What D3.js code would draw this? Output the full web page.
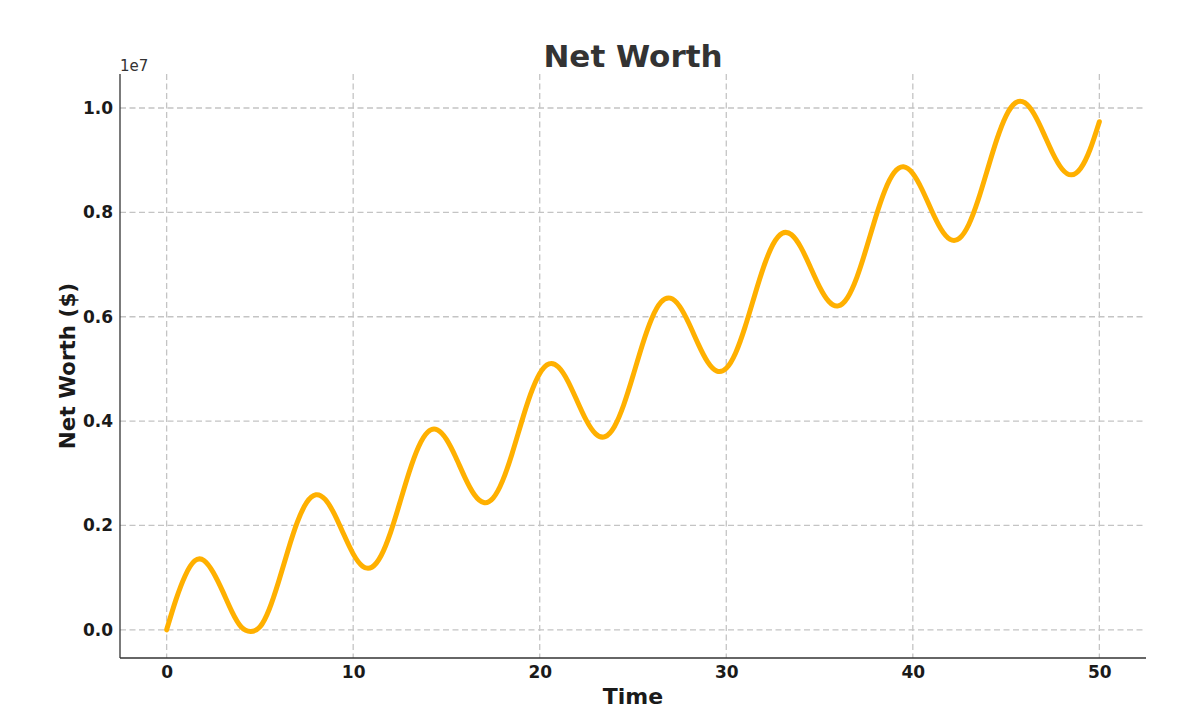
<!DOCTYPE html>
<html>
<head>
<meta charset="utf-8">
<script src="https://cdn.jsdelivr.net/npm/d3@7"></script>
<style>
  body { margin: 0; background: #fff; }
  svg { font-family: "DejaVu Sans", sans-serif; }
</style>
</head>
<body>
<div id="chart"></div>
<script>
// time values, every half unit
const times = d3.range(0, 50.01, 0.5);
// net worth in $ (1e7 scale)
const netWorth = [
  0, 579000, 1042000, 1320000, 1330000, 1099000, 741000, 349000, 55000, -30000,
  55000, 394000, 921000, 1515000, 2057000, 2438000, 2589000, 2499000, 2212000, 1825000,
  1456000, 1220000, 1200000, 1424000, 1863000, 2434000, 3020000, 3504000, 3791000, 3835000,
  3650000, 3307000, 2912000, 2588000, 2439000, 2524000, 2849000, 3357000, 3950000, 4506000,
  4913000, 5097000, 5037000, 4772000, 4391000, 4013000, 3754000, 3702000, 3894000, 4309000,
  4868000, 5459000, 5963000, 6279000, 6356000, 6200000, 5871000, 5476000, 5136000, 4959000,
  5012000, 5306000, 5796000, 6384000, 6951000, 7384000, 7600000, 7571000, 7329000, 6958000,
  6572000, 6291000, 6208000, 6368000, 6756000, 7302000, 7896000, 8418000, 8764000, 8874000,
  8745000, 8434000, 8041000, 7687000, 7483000, 7504000, 7768000, 8236000, 8818000, 9395000,
  9851000, 10099000, 10102000, 9884000, 9524000, 9133000, 8832000, 8719000, 8846000, 9205000,
  9738000
];
const xTicks = [0, 10, 20, 30, 40, 50];
const yTicks = [0, 2e6, 4e6, 6e6, 8e6, 1e7];

const width = 1200, height = 727;
const margin = {top: 74, right: 54, bottom: 69, left: 120};
const innerW = width - margin.left - margin.right;
const innerH = height - margin.top - margin.bottom;

const data = times.map((t, i) => ({t: t, v: netWorth[i]}));

const svg = d3.select("#chart").append("svg")
    .attr("width", width)
    .attr("height", height);

const g = svg.append("g")
    .attr("transform", "translate(" + margin.left + "," + margin.top + ")");

// matplotlib style 5% margins
const xScale = d3.scaleLinear().domain([-2.5, 52.5]).range([0, innerW]);
const yScale = d3.scaleLinear().domain([-540000, 10652000]).range([innerH, 0]);

// gridlines
const gridStyle = sel => sel
    .attr("stroke", "#c4c4c4")
    .attr("stroke-width", 1.3)
    .attr("stroke-dasharray", "6,3.5");

g.append("g")
    .selectAll("line").data(xTicks).join("line")
    .attr("x1", d => xScale(d)).attr("x2", d => xScale(d))
    .attr("y1", 0).attr("y2", innerH)
    .call(gridStyle);
g.append("g")
    .selectAll("line").data(yTicks).join("line")
    .attr("x1", 0).attr("x2", innerW)
    .attr("y1", d => yScale(d)).attr("y2", d => yScale(d))
    .call(gridStyle);

// axes
const xAxis = g.append("g")
    .attr("transform", "translate(0," + innerH + ")")
    .call(d3.axisBottom(xScale).tickValues(xTicks).tickSize(0).tickPadding(8).tickFormat(d3.format("d")));
const yAxis = g.append("g")
    .call(d3.axisLeft(yScale).tickValues(yTicks).tickSize(0).tickPadding(7).tickFormat(d => (d / 1e7).toFixed(1)));

[xAxis, yAxis].forEach(a => {
    a.attr("font-family", null).attr("font-size", null);
    a.select(".domain").attr("stroke", "#333").attr("stroke-width", 1.3);
    a.selectAll(".tick text")
        .style("font-size", "17px")
        .style("font-weight", "bold")
        .style("font-family", "'DejaVu Sans', sans-serif")
        .attr("fill", "#1a1a1a");
});
xAxis.select(".domain").attr("d", "M0,0H" + innerW);
yAxis.select(".domain").attr("d", "M0," + innerH + "V0");

// the line
const line = d3.line()
    .x(d => xScale(d.t))
    .y(d => yScale(d.v))
    .curve(d3.curveNatural);

g.append("path")
    .datum(data)
    .attr("fill", "none")
    .attr("stroke", "#FFB000")
    .attr("stroke-width", 5)
    .attr("stroke-linecap", "round")
    .attr("stroke-linejoin", "round")
    .attr("d", line);

// offset text
svg.append("text")
    .attr("x", margin.left)
    .attr("y", 71)
    .attr("font-size", 15)
    .attr("fill", "#333")
    .text("1e7");

// title
svg.append("text")
    .attr("x", margin.left + innerW / 2)
    .attr("y", 67)
    .attr("text-anchor", "middle")
    .attr("font-size", 31)
    .attr("font-weight", "bold")
    .attr("fill", "#333")
    .text("Net Worth");

// axis labels
svg.append("text")
    .attr("x", margin.left + innerW / 2)
    .attr("y", 704)
    .attr("text-anchor", "middle")
    .attr("font-size", 22)
    .attr("font-weight", "bold")
    .attr("fill", "#1a1a1a")
    .text("Time");

svg.append("text")
    .attr("transform", "translate(75," + (margin.top + innerH / 2) + ") rotate(-90)")
    .attr("text-anchor", "middle")
    .attr("font-size", 21.5)
    .attr("font-weight", "bold")
    .attr("fill", "#1a1a1a")
    .text("Net Worth ($)");
</script>
</body>
</html>
